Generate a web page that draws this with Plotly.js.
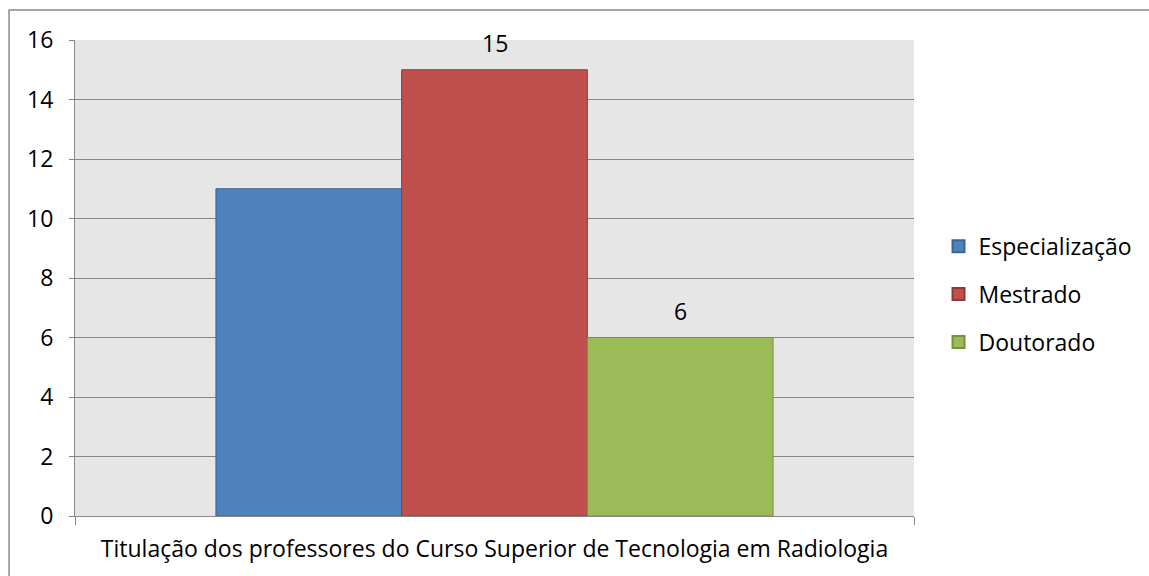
<!DOCTYPE html>
<html>
<head>
<meta charset="utf-8">
<script src="https://cdn.plot.ly/plotly-3.0.1.min.js"></script>
<style>html,body{margin:0;padding:0;background:#fff;}#chart{width:1149px;height:576px;}</style>
</head>
<body>
<div id="chart"></div>
<script>
const category = ["Titulação dos professores do Curso Superior de Tecnologia em Radiologia"];
const seriesNames = ["Especialização", "Mestrado", "Doutorado"];
const seriesValues = [11, 15, 6];
const seriesLabels = ["", "15", "6"];
const fillColors = ["#4f81bd", "#c0504d", "#9bbb59"];
const lineColors = ["#3a6595", "#8e3a38", "#76923f"];

const FONT = "'Open Sans', Lato, sans-serif";
const FS = 23;
const W = 1149, H = 576;
const M = {l: 75, r: 234, t: 40, b: 60};
const BARGAP = 0.336;
const plotW = W - M.l - M.r;
const barPx = plotW * (1 - BARGAP) / seriesNames.length;

const traces = seriesNames.map((n, i) => ({
  type: "bar",
  name: n,
  legendgroup: "g" + i,
  x: category,
  y: [seriesValues[i]],
  marker: {color: fillColors[i], line: {color: lineColors[i], width: 1}},
  hoverinfo: "name+y"
}));

const annotations = [];
seriesNames.forEach((n, i) => {
  if (seriesLabels[i]) {
    annotations.push({
      x: category[0], y: seriesValues[i], xref: "x", yref: "y",
      xshift: (i - (seriesNames.length - 1) / 2) * barPx,
      yshift: 27, yanchor: "middle", xanchor: "center",
      text: seriesLabels[i], showarrow: false,
      font: {family: FONT, size: FS, color: "#000"}
    });
  }
});

const layout = {
  width: W, height: H,
  margin: M,
  paper_bgcolor: "#ffffff",
  plot_bgcolor: "#e6e6e6",
  barmode: "group",
  bargap: BARGAP,
  bargroupgap: 0,
  font: {family: FONT, size: FS, color: "#000"},
  showlegend: true,
  legend: {x: 1.028, y: 0.466, yanchor: "middle", xanchor: "left",
           font: {family: FONT, size: FS, color: "#000"},
           itemsizing: "constant", tracegroupgap: 15, itemwidth: 30},
  annotations: annotations,
  xaxis: {
    type: "category",
    showgrid: false, showline: true, linecolor: "#888888", linewidth: 1,
    ticks: "outside", tickson: "boundaries", ticklen: 8, tickcolor: "#888888",
    ticklabelstandoff: 12,
    tickfont: {family: FONT, size: FS, color: "#000"},
    fixedrange: true
  },
  yaxis: {
    range: [0, 16], dtick: 2, tick0: 0,
    showgrid: true, gridcolor: "#878787", gridwidth: 1,
    showline: true, linecolor: "#888888", linewidth: 1,
    ticks: "outside", ticklen: 5, tickcolor: "#888888",
    ticklabelstandoff: 11,
    tickfont: {family: FONT, size: FS, color: "#000"},
    zeroline: false,
    fixedrange: true
  },
  shapes: [{
    type: "rect", xref: "paper", yref: "paper",
    x0: -0.0786, x1: 1.5, y0: -0.3, y1: 1.063,
    line: {color: "#8a8a8a", width: 1.5}, fillcolor: "rgba(0,0,0,0)", layer: "below"
  }]
};

Plotly.newPlot("chart", traces, layout, {displayModeBar: false, staticPlot: true});
</script>
</body>
</html>
